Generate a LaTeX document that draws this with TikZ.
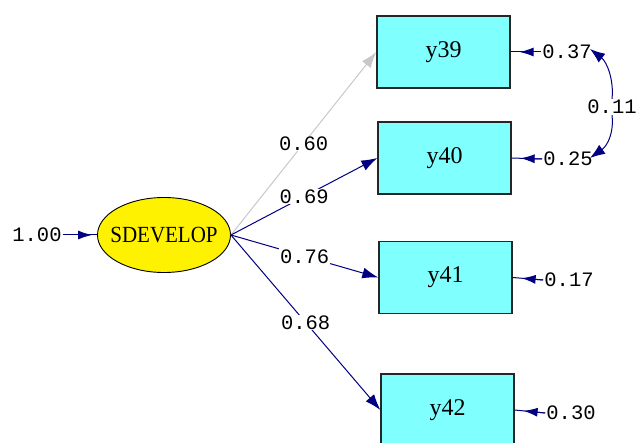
\documentclass[tikz,border=0pt]{standalone}
\usepackage{fontspec}
\setmainfont{Liberation Serif}
\newfontfamily\numfont{Liberation Mono}
\usetikzlibrary{shapes.geometric,arrows.meta,calc}
\definecolor{pathblue}{RGB}{0,0,128}
\definecolor{boxcyan}{RGB}{128,255,255}
\definecolor{fixgray}{RGB}{200,200,200}
\tikzset{
  obs/.style={draw=black!85, line width=1.3pt, fill=boxcyan, minimum width=133pt,
    minimum height=72pt, inner sep=0pt, font=\fontsize{24}{27}\selectfont},
  latent/.style={ellipse, draw=black, line width=0.9pt, fill=yellow, minimum width=133pt,
    minimum height=75pt, inner sep=0pt, font=\fontsize{21}{24}\selectfont},
  est/.style={font=\numfont\fontsize{20.5}{24}\selectfont, inner sep=1pt},
  onpath/.style={est, fill=white, pos=0.5},
  load/.style={draw=pathblue, line width=1pt, -{Latex[length=16pt,width=11pt]}},
  fixload/.style={load, draw=fixgray, -{Latex[length=16pt,width=11pt,fill=fixgray]}},
  errline/.style={draw=pathblue, line width=1pt},
  errhead/.style={draw=pathblue, line width=1pt, -{Latex[length=14pt,width=9pt]}, shorten >=9pt},
  cov/.style={draw=pathblue, line width=1pt, -{Latex[length=15pt,width=11pt]}}
}
\begin{document}
\begin{tikzpicture}[x=1pt,y=-1pt]
  \useasboundingbox (0,0) rectangle (640,443);

  % latent variable and indicators
  \node[latent] (sd) at (164,235) {\makebox[0pt]{\scalebox{1}[1.1]{SDEVELOP}}};
  \node[obs] (y39) at (443.5,52) {y39};
  \node[obs] (y40) at (444.5,158) {y40};
  \node[obs] (y41) at (445.5,277.5) {y41};
  \node[obs] (y42) at (447.5,410) {y42};

  % factor loadings
  \draw[fixload] (sd.east) -- node[onpath] {0.60} (y39.west);
  \draw[load] (sd.east) -- node[onpath] {0.69} (y40.west);
  \draw[load] (sd.east) -- node[onpath] {0.76} (y41.west);
  \draw[load] (sd.east) -- node[onpath] {0.68} (y42.west);

  % variance of the latent variable
  \node[est] (v) at (37,235) {1.00};
  \draw[errline] (v.east) -- (sd.west);
  \draw[errhead, shorten >=5pt] (v.east) -- (sd.west);

  % error variances
  \node[est] (e39) at (567,52) {0.37};
  \node[est] (e40) at (568,159) {0.25};
  \node[est] (e41) at (569,280) {0.17};
  \node[est] (e42) at (571,413) {0.30};
  \foreach \i in {39,40,41,42} {
    \draw[errline] (e\i.west) -- (y\i.east);
    \draw[errhead] (e\i.west) -- (y\i.east);
  }

  % error covariance
  \node[est] (c11) at (612,107) {0.11};
  \coordinate (t39) at (590,49);
  \coordinate (t40) at (590,158);
  \draw[cov] (c11.north) .. controls (614,80) and (607,62) .. (t39);
  \draw[cov] (c11.south) .. controls (614,134) and (607,146) .. (t40);
\end{tikzpicture}
\end{document}
